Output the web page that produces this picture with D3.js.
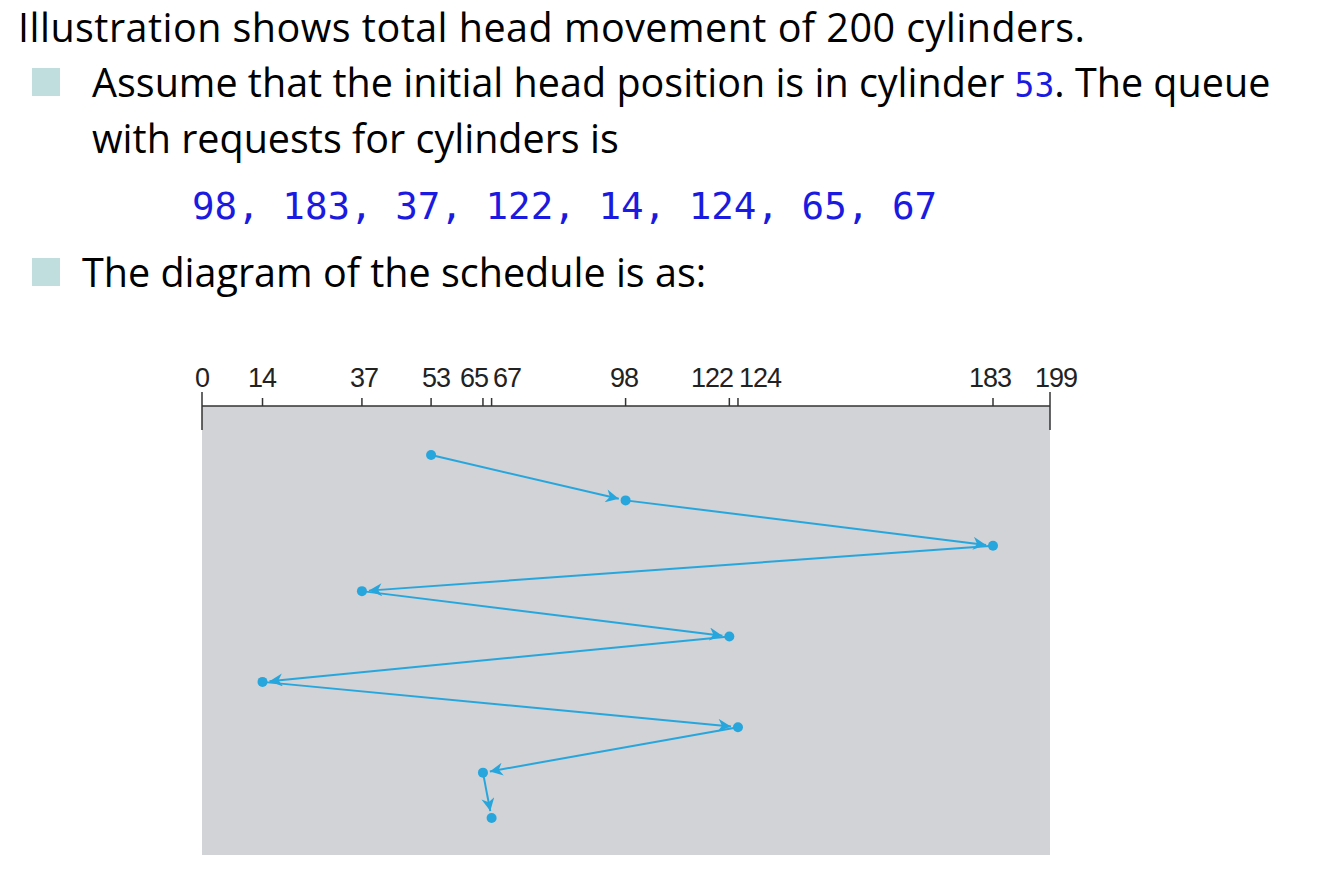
<!DOCTYPE html>
<html><head><meta charset="utf-8">
<script src="https://cdn.jsdelivr.net/npm/d3@7"></script>
<style>body{margin:0;background:#fff}</style></head>
<body><svg id="c" width="1341" height="871"></svg>
<script>
const tickValues=[0,14,37,53,65,67,98,122,124,183,199];
const tickLabels=["0","14","37","53","65","67","98","122","124","183","199"];
const headPath=[53,98,183,37,122,14,124,65,67];
const queue=[98,183,37,122,14,124,65,67];
const svg=d3.select("#c");
const x=d3.scaleLinear().domain([0,183,199]).range([202,993,1050]);
const y=d3.scalePoint().domain(d3.range(headPath.length)).range([455,818]);
const col="#27a6dd";
const tf="'Open Sans','Noto Sans',sans-serif";
const fs=39.5;
svg.append("text").attr("x",18).attr("y",42).attr("font-family",tf).attr("font-size",fs).attr("textLength",1067).text("Illustration shows total head movement of 200 cylinders.");
[[68],[258]].forEach(([yy])=>svg.append("rect").attr("x",32).attr("y",yy).attr("width",28).attr("height",28).attr("fill","#bfdedd"));
const t1=svg.append("text").attr("x",92).attr("y",97).attr("font-family",tf).attr("font-size",fs);
t1.append("tspan").text("Assume that the initial head position is in cylinder ");
t1.append("tspan").attr("font-family","'DejaVu Sans Mono',monospace").attr("font-size",33).attr("fill","#1a1ae0").text("53");
t1.append("tspan").text(". The queue");
svg.append("text").attr("x",92).attr("y",153).attr("font-family",tf).attr("font-size",fs).text("with requests for cylinders is");
svg.append("text").attr("x",192).attr("y",219).attr("font-family","'DejaVu Sans Mono',monospace").attr("font-size",37.5).attr("fill","#1a1ae0").text(queue.join(", "));
svg.append("text").attr("x",82).attr("y",287).attr("font-family",tf).attr("font-size",fs).text("The diagram of the schedule is as:");
svg.append("rect").attr("x",x(0)).attr("y",406).attr("width",x(199)-x(0)).attr("height",449).attr("fill","#d1d3d6");
const ax=svg.append("g").attr("stroke","#333").attr("stroke-width",1.5);
ax.append("line").attr("x1",x(0)).attr("x2",x(199)).attr("y1",406).attr("y2",406);
ax.selectAll(".t").data(tickValues).join("line").attr("x1",d=>x(d)).attr("x2",d=>x(d))
 .attr("y1",d=>d===0||d===199?392:398).attr("y2",d=>d===0||d===199?430:406);
const lx={0:202,14:262,37:364,53:436,65:474,67:507,98:624,122:712,124:760,183:990,199:1056};
svg.append("g").selectAll("text").data(tickValues).join("text")
 .attr("x",d=>lx[d]).attr("y",387).attr("text-anchor","middle")
 .attr("font-family","'Liberation Sans',Arial,sans-serif").attr("font-size",27).attr("fill","#222")
 .attr("letter-spacing",-1)
 .text((d,i)=>tickLabels[i]);
svg.append("defs").append("marker").attr("id","ar").attr("viewBox","0 0 10 10").attr("refX",10).attr("refY",5)
 .attr("markerWidth",18).attr("markerHeight",13).attr("markerUnits","userSpaceOnUse").attr("orient","auto")
 .append("path").attr("d","M0,0L10,5L0,10L3,5Z").attr("fill",col);
const g=svg.append("g");
for(let i=0;i<headPath.length-1;i++){
 const x1=x(headPath[i]),y1=y(i),x2=x(headPath[i+1]),y2=y(i+1);
 const dx=x2-x1,dy=y2-y1,L=Math.hypot(dx,dy);
 g.append("line").attr("x1",x1).attr("y1",y1).attr("x2",x2-dx/L*7).attr("y2",y2-dy/L*7)
  .attr("stroke",col).attr("stroke-width",2).attr("marker-end","url(#ar)");
}
g.selectAll("circle").data(headPath).join("circle").attr("cx",d=>x(d)).attr("cy",(d,i)=>y(i)).attr("r",5).attr("fill",col);
</script></body></html>
